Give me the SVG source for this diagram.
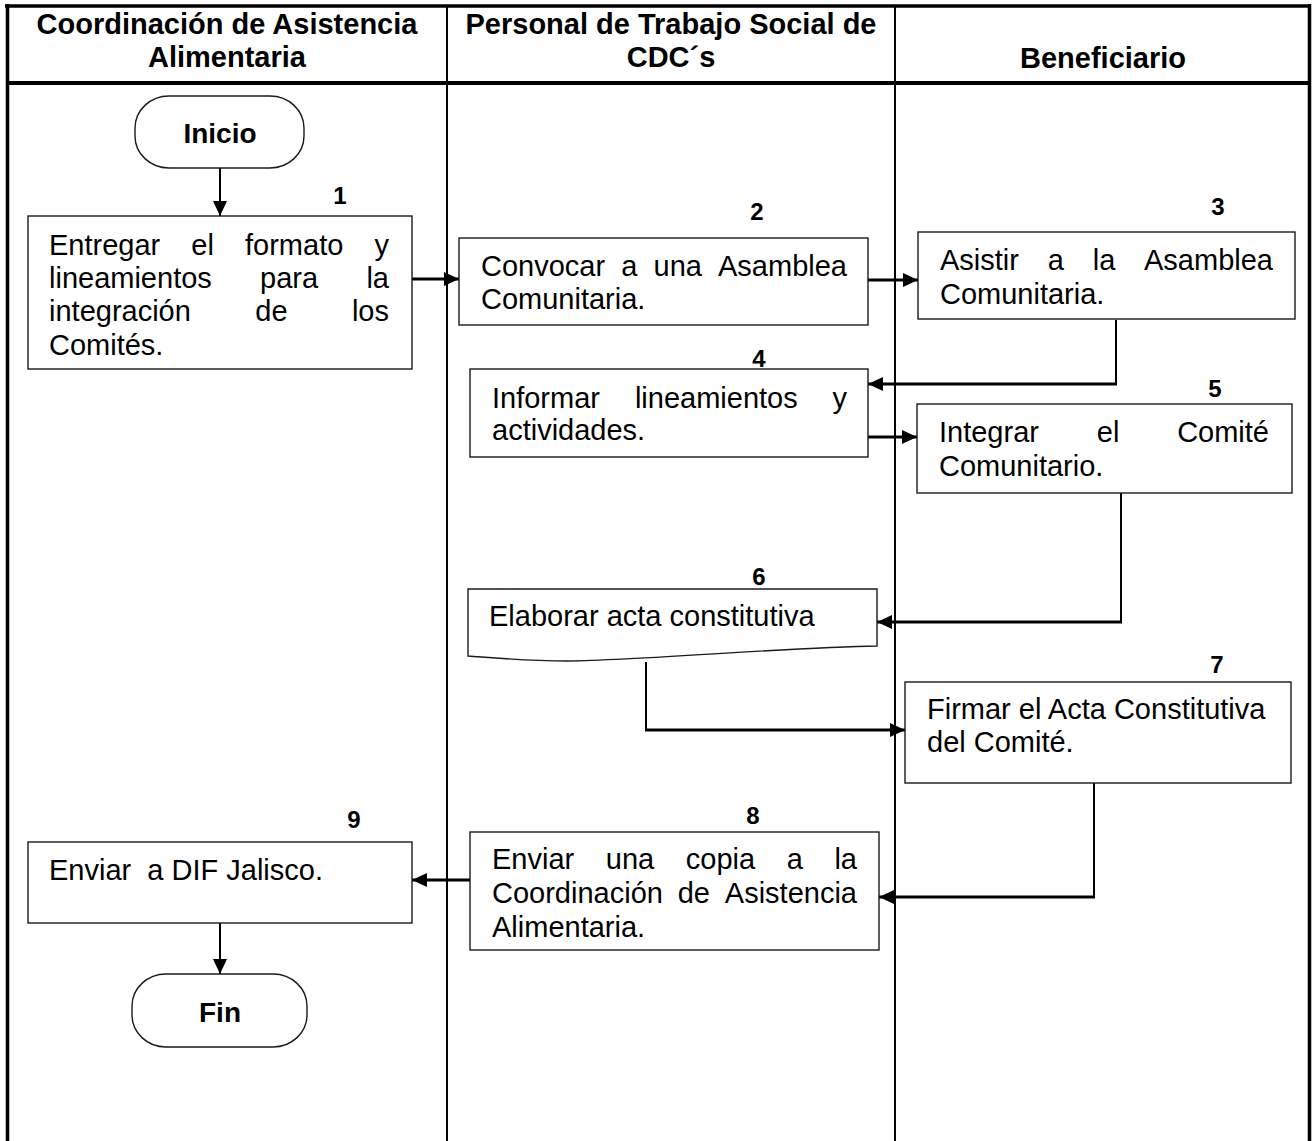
<svg xmlns="http://www.w3.org/2000/svg" width="1315" height="1141" viewBox="0 0 1315 1141">
<style>
  .frame{fill:none;stroke:#000;stroke-width:3.5}
  .lane{fill:none;stroke:#000;stroke-width:2}
  .box{fill:#fff;stroke:#1a1a1a;stroke-width:1.4}
  .hdr{font-family:"Liberation Sans",Arial,sans-serif;font-weight:bold;font-size:29px;fill:#000;text-anchor:middle}
  .txt{font-family:"Liberation Sans",Arial,sans-serif;font-size:29px;fill:#000}
  .num{font-family:"Liberation Sans",Arial,sans-serif;font-weight:bold;font-size:24px;fill:#000;text-anchor:middle}
  .term{font-family:"Liberation Sans",Arial,sans-serif;font-weight:bold;font-size:28px;fill:#000;text-anchor:middle}
  .end{text-anchor:end}
  .thin{fill:none;stroke:#000;stroke-width:2}
  .thick{fill:none;stroke:#000;stroke-width:2.8}
</style>
<defs>
  <marker id="ah" markerUnits="userSpaceOnUse" markerWidth="15" markerHeight="14" viewBox="0 0 15 14" refX="15" refY="7" orient="auto">
    <path d="M0,0 L15,7 L0,14 Z" fill="#000"/>
  </marker>
</defs>
<rect width="1315" height="1141" fill="#fff"/>

<g id="lanes">
  <line class="frame" x1="5" y1="6" x2="1311" y2="6"/>
  <line class="frame" x1="7.5" y1="4" x2="7.5" y2="1141"/>
  <line class="frame" x1="1309.5" y1="4" x2="1309.5" y2="1141"/>
  <line class="frame" x1="7" y1="83" x2="1310" y2="83" style="stroke-width:4"/>
  <line class="lane" x1="447" y1="6" x2="447" y2="1141"/>
  <line class="lane" x1="895" y1="6" x2="895" y2="1141"/>
  <text class="hdr" x="227" y="34">Coordinación de Asistencia</text>
  <text class="hdr" x="227" y="67">Alimentaria</text>
  <text class="hdr" x="671" y="34">Personal de Trabajo Social de</text>
  <text class="hdr" x="671" y="67">CDC´s</text>
  <text class="hdr" x="1103" y="68">Beneficiario</text>
</g>

<g id="connectors">
  <path class="thin" d="M220,168 V216" marker-end="url(#ah)"/>
  <path class="thick" d="M412,279 H459" marker-end="url(#ah)"/>
  <path class="thick" d="M868,280 H918" marker-end="url(#ah)"/>
  <path class="thin" d="M1116,320 V384"/>
  <path class="thick" d="M1117,384 H868" marker-end="url(#ah)"/>
  <path class="thick" d="M864,437 H917" marker-end="url(#ah)"/>
  <path class="thin" d="M1121,493 V622"/>
  <path class="thick" d="M1122,622 H877" marker-end="url(#ah)"/>
  <path class="thin" d="M646,662 V730"/>
  <path class="thick" d="M645,730 H905" marker-end="url(#ah)"/>
  <path class="thin" d="M1094,783 V897"/>
  <path class="thick" d="M1095,897 H879" marker-end="url(#ah)"/>
  <path class="thick" d="M470,880 H412" marker-end="url(#ah)"/>
  <path class="thin" d="M220,923 V974" marker-end="url(#ah)"/>
</g>

<g id="inicio">
  <rect class="box" x="135" y="96" width="169" height="72" rx="34" ry="32"/>
  <text class="term" x="220" y="143">Inicio</text>
</g>

<g id="step1">
  <rect class="box" x="28" y="216" width="384" height="153"/>
  <text class="num" x="340" y="204">1</text>
  <text class="txt" y="255"><tspan x="49">Entregar</tspan><tspan x="191.3">el</tspan><tspan x="245">formato</tspan><tspan x="389" class="end">y</tspan></text>
  <text class="txt" y="288"><tspan x="49">lineamientos</tspan><tspan x="260.1">para</tspan><tspan x="389" class="end">la</tspan></text>
  <text class="txt" y="321"><tspan x="49">integración</tspan><tspan x="255.3">de</tspan><tspan x="389" class="end">los</tspan></text>
  <text class="txt" x="49" y="355">Comités.</text>
</g>

<g id="step2">
  <rect class="box" x="459" y="238" width="409" height="87"/>
  <text class="num" x="757" y="220">2</text>
  <text class="txt" y="276"><tspan x="481">Convocar</tspan><tspan x="621.3">a</tspan><tspan x="653.6">una</tspan><tspan x="847" class="end">Asamblea</tspan></text>
  <text class="txt" x="481" y="309">Comunitaria.</text>
</g>

<g id="step3">
  <rect class="box" x="918" y="232" width="377" height="87"/>
  <text class="num" x="1218" y="215">3</text>
  <text class="txt" y="270"><tspan x="940">Asistir</tspan><tspan x="1047.7">a</tspan><tspan x="1092.7">la</tspan><tspan x="1273" class="end">Asamblea</tspan></text>
  <text class="txt" x="940" y="304">Comunitaria.</text>
</g>

<g id="step4">
  <rect class="box" x="470" y="369" width="398" height="88"/>
  <text class="num" x="759" y="367">4</text>
  <text class="txt" y="408"><tspan x="492">Informar</tspan><tspan x="634.9">lineamientos</tspan><tspan x="847" class="end">y</tspan></text>
  <text class="txt" x="492" y="440">actividades.</text>
</g>

<g id="step5">
  <rect class="box" x="917" y="404" width="375" height="89"/>
  <text class="num" x="1215" y="397">5</text>
  <text class="txt" y="442"><tspan x="939">Integrar</tspan><tspan x="1096.8">el</tspan><tspan x="1269" class="end">Comité</tspan></text>
  <text class="txt" x="939" y="476">Comunitario.</text>
</g>

<g id="step6">
  <path class="box" d="M468,589 H877 V646 C790,647 650,660 567,661 C525,661 495,658 468,656 Z"/>
  <text class="num" x="759" y="585">6</text>
  <text class="txt" x="489" y="626">Elaborar acta constitutiva</text>
</g>

<g id="step7">
  <rect class="box" x="905" y="682" width="386" height="101"/>
  <text class="num" x="1217" y="673">7</text>
  <text class="txt" x="927" y="719">Firmar el Acta Constitutiva</text>
  <text class="txt" x="927" y="752">del Comité.</text>
</g>

<g id="step8">
  <rect class="box" x="470" y="832" width="409" height="118"/>
  <text class="num" x="753" y="824">8</text>
  <text class="txt" y="869"><tspan x="492">Enviar</tspan><tspan x="605.8">una</tspan><tspan x="685.8">copia</tspan><tspan x="786.7">a</tspan><tspan x="857" class="end">la</tspan></text>
  <text class="txt" y="903"><tspan x="492">Coordinación</tspan><tspan x="677.7">de</tspan><tspan x="857" class="end">Asistencia</tspan></text>
  <text class="txt" x="492" y="937">Alimentaria.</text>
</g>

<g id="step9">
  <rect class="box" x="28" y="842" width="384" height="81"/>
  <text class="num" x="354" y="828">9</text>
  <text class="txt" x="49" y="880" xml:space="preserve">Enviar  a DIF Jalisco.</text>
</g>

<g id="fin">
  <rect class="box" x="132" y="974" width="175" height="73" rx="34" ry="32"/>
  <text class="term" x="220" y="1022">Fin</text>
</g>
</svg>
